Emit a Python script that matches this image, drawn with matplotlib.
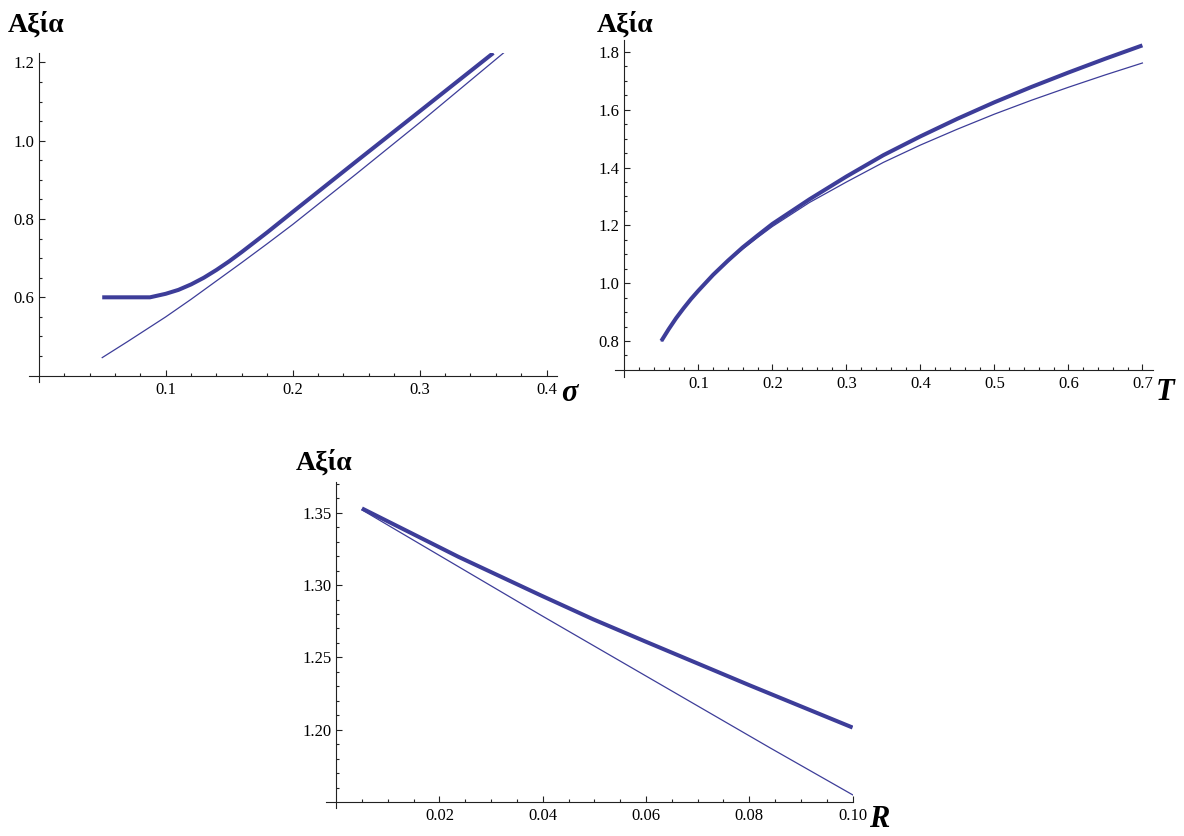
import numpy as np
import matplotlib
matplotlib.use("Agg")
import matplotlib.pyplot as plt
from matplotlib.ticker import FixedLocator, FormatStrFormatter

# ---- data ----
# top-left: value vs sigma
sigma_thick = [0.05, 0.0876, 0.10, 0.11, 0.12, 0.13, 0.14, 0.15, 0.16, 0.17, 0.18,
               0.19, 0.20, 0.25, 0.30, 0.358]
val_sigma_thick = [0.600, 0.600, 0.609, 0.619, 0.633, 0.650, 0.670, 0.692, 0.716, 0.741, 0.766,
                   0.792, 0.818, 0.947, 1.075, 1.224]
sigma_thin = [0.05, 0.06, 0.07, 0.08, 0.09, 0.10, 0.12, 0.14, 0.16, 0.18, 0.20, 0.25, 0.30, 0.366]
val_sigma_thin = [0.446, 0.4665, 0.487, 0.508, 0.529, 0.550, 0.595, 0.642, 0.689, 0.737, 0.786,
                  0.915, 1.046, 1.224]

# top-right: value vs T
t_vals = [0.05, 0.06, 0.07, 0.08, 0.09, 0.10, 0.12, 0.14, 0.16, 0.18, 0.20,
          0.25, 0.30, 0.35, 0.40, 0.45, 0.50, 0.55, 0.60, 0.65, 0.70]
val_t_thick = [0.800, 0.841, 0.879, 0.913, 0.945, 0.974, 1.029, 1.078, 1.124, 1.165, 1.205,
               1.290, 1.369, 1.443, 1.508, 1.569, 1.626, 1.679, 1.729, 1.777, 1.823]
val_t_thin = [0.800, 0.842, 0.879, 0.913, 0.945, 0.974, 1.027, 1.075, 1.118, 1.158, 1.196,
              1.279, 1.350, 1.418, 1.478, 1.533, 1.585, 1.633, 1.678, 1.721, 1.762]

# bottom: value vs R
r_thick = [0.005, 0.014, 0.0237, 0.0395, 0.0498, 0.06, 0.08, 0.10]
val_r_thick = [1.353, 1.3369, 1.3195, 1.2931, 1.2763, 1.2608, 1.2308, 1.2015]
r_thin = [0.005, 0.0395, 0.084, 0.10]
val_r_thin = [1.352, 1.2795, 1.1875, 1.155]

W, H = 1184, 836
BLUE = '#3d3d99'
SERIF = ['Liberation Serif', 'DejaVu Serif']

fig = plt.figure(figsize=(W / 100, H / 100), dpi=100)
fig.patch.set_facecolor('white')


def make_axes(px_left, px_right, px_top, px_bottom):
    return fig.add_axes([px_left / W, 1 - px_bottom / H,
                         (px_right - px_left) / W, (px_bottom - px_top) / H])


def style(ax, xlim, ylim, cross_y, xmaj, xmin, ymaj, ymin, fmt):
    ax.set_xlim(*xlim)
    ax.set_ylim(*ylim)
    for s in ['top', 'right']:
        ax.spines[s].set_visible(False)
    ax.spines['left'].set_position(('data', 0))
    ax.spines['bottom'].set_position(('data', cross_y))
    for s in ['left', 'bottom']:
        ax.spines[s].set_color('#222222')
        ax.spines[s].set_linewidth(0.8)
    ax.xaxis.set_major_locator(FixedLocator(xmaj))
    ax.xaxis.set_minor_locator(FixedLocator(xmin))
    ax.yaxis.set_major_locator(FixedLocator(ymaj))
    ax.yaxis.set_minor_locator(FixedLocator(ymin))
    ax.xaxis.set_major_formatter(FormatStrFormatter(fmt[0]))
    ax.yaxis.set_major_formatter(FormatStrFormatter(fmt[1]))
    ax.tick_params(which='both', direction='in', color='#222222', width=0.8)
    ax.tick_params(which='major', length=4.5, labelsize=12)
    ax.tick_params(which='minor', length=2.5)
    ax.tick_params(axis='x', pad=4.5)
    ax.tick_params(axis='y', pad=3.5)
    for lab in ax.get_xticklabels() + ax.get_yticklabels():
        lab.set_family(SERIF)
    ax.patch.set_alpha(0)


def draw(ax, x1, y1, x2, y2):
    ax.plot(x1, y1, color=BLUE, lw=2.9, solid_capstyle='butt', solid_joinstyle='round')
    ax.plot(x2, y2, color=BLUE, lw=0.9)


# plot 1 (sigma)
ax1 = make_axes(28.7, 556.8, 53, 381.5)
draw(ax1, sigma_thick, val_sigma_thick, sigma_thin, val_sigma_thin)
style(ax1, (-0.0079, 0.408), (0.385, 1.224), 0.4,
      [0.1, 0.2, 0.3, 0.4], np.arange(0.02, 0.41, 0.02),
      [0.6, 0.8, 1.0, 1.2], np.arange(0.45, 1.23, 0.05), ('%.1f', '%.1f'))

# plot 2 (T)
ax2 = make_axes(614.7, 1153.2, 39.6, 376.8)
draw(ax2, t_vals, val_t_thick, t_vals, val_t_thin)
style(ax2, (-0.013, 0.7146), (0.676, 1.843), 0.7,
      [0.1, 0.2, 0.3, 0.4, 0.5, 0.6, 0.7], np.arange(0.02, 0.71, 0.02),
      [0.8, 1.0, 1.2, 1.4, 1.6, 1.8], np.arange(0.75, 1.84, 0.05), ('%.1f', '%.1f'))

# plot 3 (R)
ax3 = make_axes(325.8, 853.1, 481.8, 808.4)
draw(ax3, r_thick, val_r_thick, r_thin, val_r_thin)
style(ax3, (-0.002, 0.1001), (1.1456, 1.3714), 1.15,
      [0.02, 0.04, 0.06, 0.08, 0.10], np.arange(0.005, 0.1001, 0.005),
      [1.20, 1.25, 1.30, 1.35], np.arange(1.16, 1.371, 0.01), ('%.2f', '%.2f'))


def ftext(px, py, s, **kw):
    fig.text(px / W, 1 - py / H, s, family=SERIF, va='baseline', ha='left', **kw)


for px, py in [(8, 32), (597, 32), (296, 470)]:
    ftext(px, py, 'Αξία', fontsize=20, fontweight='bold')

ftext(561, 401, 'σ', fontsize=22, fontweight='bold', style='italic')
ftext(1156, 400, 'T', fontsize=22, fontweight='bold', style='italic')
ftext(869, 827, 'R', fontsize=22, fontweight='bold', style='italic')

fig.savefig('out.png', dpi=100, facecolor='white')
